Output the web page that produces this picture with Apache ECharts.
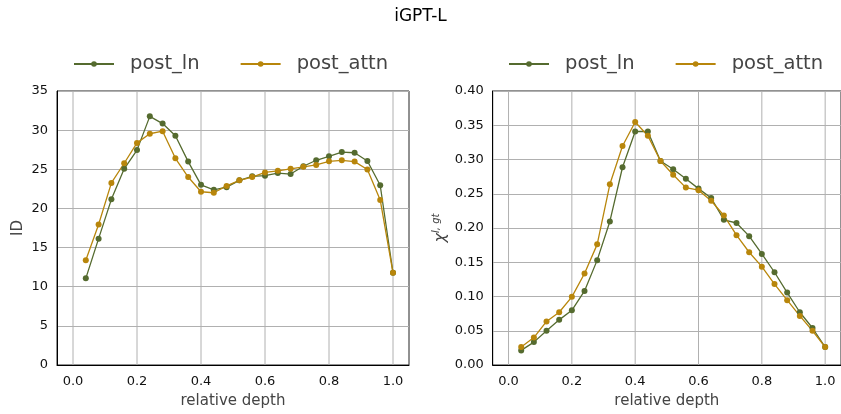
<!DOCTYPE html>
<html>
<head>
<meta charset="utf-8">
<script src="https://cdn.jsdelivr.net/npm/echarts@6/dist/echarts.min.js"></script>
<style>html,body{margin:0;padding:0;background:#fff}#c{width:841px;height:414px}</style>
</head>
<body>
<div id="c"></div>
<script>
const depth = [0.04,0.08,0.12,0.16,0.20,0.24,0.28,0.32,0.36,0.40,0.44,0.48,0.52,0.56,0.60,0.64,0.68,0.72,0.76,0.80,0.84,0.88,0.92,0.96,1.00];
const idPostLn   = [11.07,16.14,21.16,25.06,27.45,31.76,30.84,29.29,25.98,23.01,22.38,22.71,23.59,24.10,24.18,24.51,24.39,25.39,26.15,26.65,27.20,27.11,26.06,22.96,11.78];
const idPostAttn = [13.37,17.94,23.26,25.77,28.37,29.54,29.87,26.40,24.01,22.13,22.00,22.88,23.59,24.01,24.60,24.81,25.06,25.31,25.56,26.02,26.15,25.98,24.97,21.08,11.78];
const chiPostLn   = [0.0213,0.0334,0.0500,0.0659,0.0798,0.1081,0.1531,0.2096,0.2887,0.3409,0.3409,0.2978,0.2858,0.2719,0.2575,0.2437,0.2120,0.2073,0.1881,0.1622,0.1354,0.1057,0.0770,0.0540,0.0262];
const chiPostAttn = [0.0262,0.0401,0.0636,0.0770,0.0995,0.1335,0.1761,0.2638,0.3198,0.3548,0.3347,0.2978,0.2777,0.2590,0.2552,0.2398,0.2183,0.1895,0.1646,0.1436,0.1182,0.0947,0.0717,0.0500,0.0262];
const xTicks = [0, 0.2, 0.4, 0.6, 0.8, 1.0];
const idRange = [0, 35];
const chiRange = [0, 0.4];
const seriesNames = ['post_ln','post_attn'];
const colors = ['#556b2f','#b8860b'];
const title = 'iGPT-L';

const X_MIN = -0.05, X_MAX = 1.05;
const font = 'DejaVu Sans';
const pair = (xs, ys) => xs.map((x, i) => [x, ys[i]]);

function xAxis(idx){
  return {
    gridIndex: idx, type: 'value', min: X_MIN, max: X_MAX, position: 'bottom',
    name: 'relative depth', nameLocation: 'middle', nameGap: 29,
    nameTextStyle: {fontFamily: font, fontSize: 15, color: '#444'},
    axisLine: {show: true, onZero: false, lineStyle: {color: '#000', width: 1}},
    axisTick: {show: false, customValues: xTicks},
    axisLabel: {fontFamily: font, fontSize: 13, color: '#111', margin: 10,
      customValues: xTicks, formatter: v => v.toFixed(1)},
    splitLine: {show: false}
  };
}

// vertical grid lines at the x tick values, drawn as plain line series through the axes
function vGridLines(axisIdx, range){
  return xTicks.map(v => ({
    name: 'vgrid', type: 'line', xAxisIndex: axisIdx, yAxisIndex: axisIdx,
    data: [[v, range[0]], [v, range[1]]],
    symbol: 'none', silent: true, z: 1, animation: false,
    lineStyle: {color: '#b0b0b0', width: 1},
    emphasis: {disabled: true}, tooltip: {show: false}
  }));
}

function series(name, color, xi, yi, data){
  return {
    name, type: 'line', xAxisIndex: xi, yAxisIndex: yi, data,
    symbol: 'circle', symbolSize: 6, z: 3,
    lineStyle: {color, width: 1.3}, itemStyle: {color},
    emphasis: {disabled: true},
    animation: false
  };
}

function legend(left){
  return {data: seriesNames, left, top: 54, padding: 0, itemWidth: 40, itemHeight: 7, itemGap: 40,
    textStyle: {fontFamily: font, fontSize: 19.5, color: '#444', padding: [0,0,0,11]}};
}

function yAxis(idx, range, interval, name, gap, extra){
  return Object.assign({gridIndex: idx, type: 'value', min: range[0], max: range[1], interval,
     name, nameLocation: 'middle', nameGap: gap, nameRotate: 90,
     axisLine: {show: true, onZero: false, lineStyle: {color: '#000'}}, axisTick: {show: false},
     splitLine: {show: true, lineStyle: {color: '#b0b0b0', width: 1}}}, extra);
}

const chart = echarts.init(document.getElementById('c'), null, {renderer: 'canvas'});
chart.setOption({
  backgroundColor: '#fff',
  animation: false,
  title: {text: title, left: 'center', top: 3, textStyle: {fontFamily: font, fontSize: 17, fontWeight: 'normal', color: '#000'}},
  legend: [legend(73), legend(508)],
  grid: [
    {left: 57, top: 91, width: 352, height: 277, show: true, borderColor: '#222', borderWidth: 1, backgroundColor: 'transparent'},
    {left: 492.7, top: 91, width: 358, height: 277, show: true, borderColor: '#222', borderWidth: 1, backgroundColor: 'transparent'}
  ],
  xAxis: [xAxis(0), xAxis(1)],
  yAxis: [
    yAxis(0, idRange, 5, 'ID', 31, {
      nameTextStyle: {fontFamily: font, fontSize: 15, color: '#444'},
      axisLabel: {fontFamily: font, fontSize: 13, color: '#111', margin: 9}}),
    yAxis(1, chiRange, 0.05, '{a|χ}{b|l, gt}', 42, {
      nameTextStyle: {fontFamily: font, color: '#444',
        rich: {a: {fontFamily: font, fontSize: 16, fontStyle: 'italic', color: '#444'},
               b: {fontFamily: font, fontSize: 10, fontStyle: 'italic', color: '#444', padding: [0,0,9,0]}}},
      axisLabel: {fontFamily: font, fontSize: 13, color: '#111', margin: 9, formatter: v => v.toFixed(2)}})
  ],
  series: [
    ...vGridLines(0, idRange),
    ...vGridLines(1, chiRange),
    series(seriesNames[0], colors[0], 0, 0, pair(depth, idPostLn)),
    series(seriesNames[1], colors[1], 0, 0, pair(depth, idPostAttn)),
    series(seriesNames[0], colors[0], 1, 1, pair(depth, chiPostLn)),
    series(seriesNames[1], colors[1], 1, 1, pair(depth, chiPostAttn))
  ]
});
</script>
</body>
</html>
